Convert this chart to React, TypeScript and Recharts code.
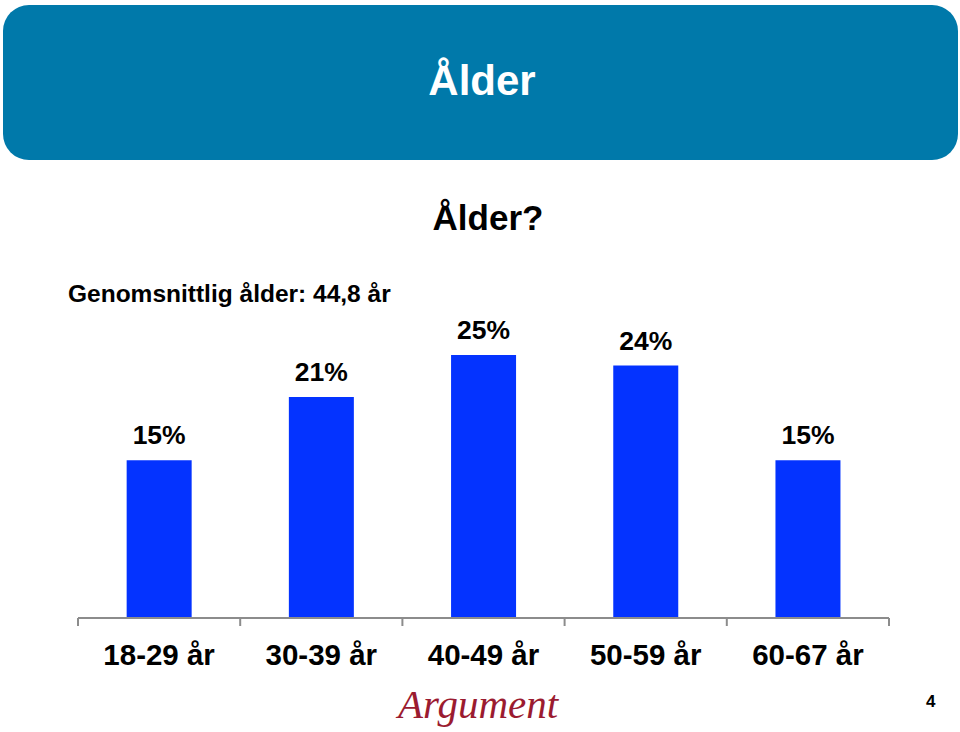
import { BarChart, Bar, XAxis, YAxis, LabelList } from 'recharts';

const categories = ['18-29 år', '30-39 år', '40-49 år', '50-59 år', '60-67 år'];
const shares = [15, 21, 25, 24, 15];
const valueLabels = ['15%', '21%', '25%', '24%', '15%'];

const data = categories.map((name, i) => ({ name, value: shares[i], label: valueLabels[i] }));

const FONT = '"Liberation Sans", Arial, sans-serif';
const BAR = '#0433FF';
const HEADER = '#0079AA';
const AXIS = '#8c8c8c';

const PLOT_LEFT = 78;
const PLOT_RIGHT = 889;
const HALF_BAND = (PLOT_RIGHT - PLOT_LEFT) / categories.length / 2;

function CategoryTick(props: any) {
  const { x, y, payload, index } = props;
  const last = index === categories.length - 1;
  return (
    <g>
      <line x1={x - HALF_BAND} x2={x - HALF_BAND} y1={y} y2={y + 8} stroke={AXIS} strokeWidth={2} />
      {last && <line x1={x + HALF_BAND} x2={x + HALF_BAND} y1={y} y2={y + 8} stroke={AXIS} strokeWidth={2} />}
      <text x={x} y={y + 47} textAnchor="middle" fontFamily={FONT} fontWeight="bold" fontSize={29.5} fill="#000">
        {payload.value}
      </text>
    </g>
  );
}

function ValueLabel(props: any) {
  const { x, y, width, value } = props;
  return (
    <text x={x + width / 2} y={y - 16} textAnchor="middle" fontFamily={FONT} fontWeight="bold" fontSize={26.5} fill="#000">
      {value}
    </text>
  );
}

export default function App() {
  return (
    <div style={{ position: 'relative', width: 960, height: 732, background: '#fff', overflow: 'hidden', fontFamily: FONT }}>
      <style>{'body{margin:0}'}</style>
      <div
        style={{
          position: 'absolute',
          left: 3,
          top: 5,
          width: 955,
          height: 155,
          background: HEADER,
          borderRadius: 26,
        }}
      />
      <div
        style={{
          position: 'absolute',
          left: 0,
          width: 964,
          top: 57,
          textAlign: 'center',
          color: '#fff',
          fontWeight: 'bold',
          fontSize: 42,
        }}
      >
        Ålder
      </div>
      <div style={{ position: 'absolute', left: 0, width: 976, top: 198, textAlign: 'center', fontWeight: 'bold', fontSize: 35 }}>
        Ålder?
      </div>
      <div style={{ position: 'absolute', left: 68, top: 280, fontWeight: 'bold', fontSize: 24.5 }}>
        Genomsnittlig ålder: 44,8 år
      </div>

      <div style={{ position: 'absolute', left: 0, top: 0 }}>
        <BarChart
          width={960}
          height={700}
          data={data}
          margin={{ top: 302.4, right: 960 - PLOT_RIGHT, left: PLOT_LEFT, bottom: 22 }}
          barCategoryGap="30%"
        >
          <XAxis
            dataKey="name"
            height={60}
            axisLine={{ stroke: AXIS, strokeWidth: 2 }}
            tickLine={false}
            tickSize={0}
            tickMargin={0}
            interval={0}
            tick={<CategoryTick />}
          />
          <YAxis hide domain={[0, 30]} />
          <Bar dataKey="value" fill={BAR} isAnimationActive={false}>
            <LabelList dataKey="label" content={<ValueLabel />} />
          </Bar>
        </BarChart>
      </div>

      <div
        style={{
          position: 'absolute',
          left: 398,
          top: 680,
          fontFamily: '"Liberation Serif", "DejaVu Serif", serif',
          fontStyle: 'italic',
          fontSize: 41,
          color: '#9b1b30',
        }}
      >
        Argument
      </div>
      <div style={{ position: 'absolute', left: 926, top: 692, fontWeight: 'bold', fontSize: 17 }}>4</div>
    </div>
  );
}
